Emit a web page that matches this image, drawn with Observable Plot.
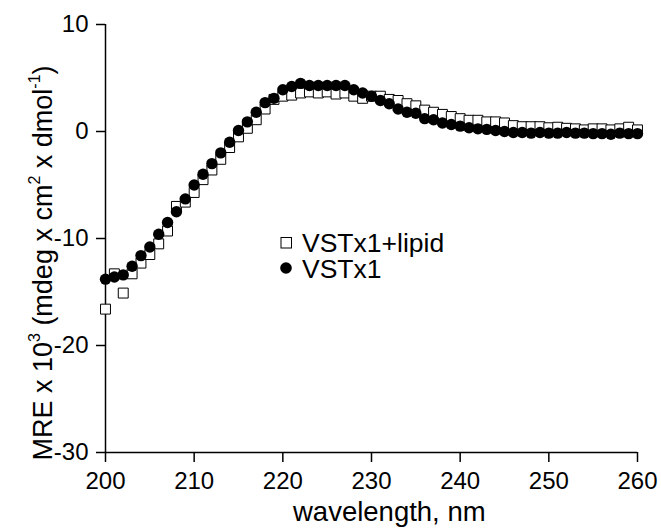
<!DOCTYPE html>
<html><head><meta charset="utf-8">
<script src="https://cdn.jsdelivr.net/npm/d3@7"></script>
<script src="https://cdn.jsdelivr.net/npm/@observablehq/plot@0.6"></script>
<style>
body{margin:0;background:#fff;}
#wrap{position:relative;width:661px;height:529px;}
#legend{position:absolute;left:0;top:0;pointer-events:none;}
</style></head><body><div id="wrap"></div>
<script>
const wavelength = [200,201,202,203,204,205,206,207,208,209,210,211,212,213,214,215,216,217,218,219,220,
  221,222,223,224,225,226,227,228,229,230,231,232,233,234,235,236,237,238,239,240,
  241,242,243,244,245,246,247,248,249,250,251,252,253,254,255,256,257,258,259,260];
const vstx1 = [-13.8,-13.6,-13.4,-12.6,-11.6,-10.8,-9.6,-8.5,-7.5,-6.3,-5.0,-4.0,-3.0,-2.0,-1.0,0.1,0.9,1.8,2.7,3.1,3.9,
  4.2,4.5,4.3,4.3,4.3,4.3,4.3,3.9,3.6,3.3,2.9,2.6,2.1,1.8,1.7,1.2,1.1,0.8,0.65,0.5,
  0.35,0.25,0.2,0.1,0.0,-0.1,-0.1,-0.15,-0.1,-0.15,-0.15,-0.1,-0.15,-0.15,-0.2,-0.2,-0.25,-0.15,-0.2,-0.2];
const vstx1Lipid = [-16.6,-13.3,-15.1,-13.3,-12.3,-11.5,-10.5,-9.3,-7.0,-6.6,-5.7,-4.5,-3.6,-2.6,-1.5,-0.5,0.3,1.1,2.1,3.0,3.3,
  3.4,3.6,3.7,3.6,3.7,3.5,3.6,3.3,3.1,3.3,3.3,3.0,2.9,2.6,2.4,2.0,1.8,1.6,1.4,1.2,
  1.05,1.05,0.9,0.9,0.8,0.55,0.45,0.45,0.45,0.35,0.4,0.3,0.25,0.15,0.25,0.25,0.15,0.25,0.4,0.15];
const seriesNames = ["VSTx1+lipid", "VSTx1"];
const xTicks = [200,210,220,230,240,250,260];
const yTicks = [-30,-20,-10,0,10];
const xLabel = "wavelength, nm";

const lipidData = wavelength.map((w,i)=>({w, v:vstx1Lipid[i]}));
const vstData = wavelength.map((w,i)=>({w, v:vstx1[i]}));
const font = "Liberation Sans, Arial, Helvetica, sans-serif";

const chart = Plot.plot({
  width:661, height:529,
  marginLeft:105, marginRight:24, marginTop:24, marginBottom:77,
  style:{fontFamily:font, fontSize:"24px", color:"#000", background:"#fff", overflow:"visible"},
  x:{domain:[200,260]},
  y:{domain:[-30,10]},
  marks:[
    Plot.axisX({ticks:xTicks, tickSize:10, tickPadding:9, tickFormat:d=>String(d), label:null, strokeWidth:1.5, fontSize:24}),
    Plot.axisY({ticks:yTicks, tickSize:9, tickPadding:8, tickFormat:d=>String(d), label:null, strokeWidth:1.5, fontSize:24}),
    Plot.ruleX([200], {stroke:"#000", strokeWidth:1.5}),
    Plot.ruleY([-30], {stroke:"#000", strokeWidth:1.5}),
    Plot.dot(lipidData, {x:"w", y:"v", symbol:"square", r:5.6, fill:"#fff", stroke:"#000", strokeWidth:1}),
    Plot.dot(vstData, {x:"w", y:"v", symbol:"circle", r:5.7, fill:"#000", stroke:"none"})
  ]
});
document.getElementById("wrap").appendChild(chart);

const svg = d3.select(chart);
// x axis title
svg.append("text").attr("x", 293).attr("y", 521).attr("text-anchor","start")
  .attr("font-family", font).attr("font-size", 27.5).attr("fill","#000").text(xLabel);
// y axis title with superscripts
const yt = svg.append("text").attr("transform","translate(52,263) rotate(-90)").attr("text-anchor","middle")
  .attr("font-family", font).attr("font-size", 27).attr("fill","#000");
yt.append("tspan").text("MRE x 10");
yt.append("tspan").attr("font-size",16).attr("dy",-12).text("3");
yt.append("tspan").attr("dy",12).text(" (mdeg x cm");
yt.append("tspan").attr("font-size",16).attr("dy",-12).text("2");
yt.append("tspan").attr("dy",12).text(" x dmol");
yt.append("tspan").attr("font-size",16).attr("dy",-12).text("-1");
yt.append("tspan").attr("dy",12).text(")");

// legend overlay (not a data mark)
const lg = d3.select("#wrap").append("svg").attr("id","legend").attr("width",661).attr("height",529);
lg.append("rect").attr("x",281).attr("y",237.5).attr("width",10.5).attr("height",10.5)
  .attr("fill","#fff").attr("stroke","#000").attr("stroke-width",1);
lg.append("circle").attr("cx",286).attr("cy",268).attr("r",5.8).attr("fill","#000");
lg.append("text").attr("x",302).attr("y",252).attr("font-family",font).attr("font-size",26.5).attr("fill","#000").text(seriesNames[0]);
lg.append("text").attr("x",302).attr("y",277.5).attr("font-family",font).attr("font-size",26.5).attr("fill","#000").text(seriesNames[1]);
</script></body></html>
